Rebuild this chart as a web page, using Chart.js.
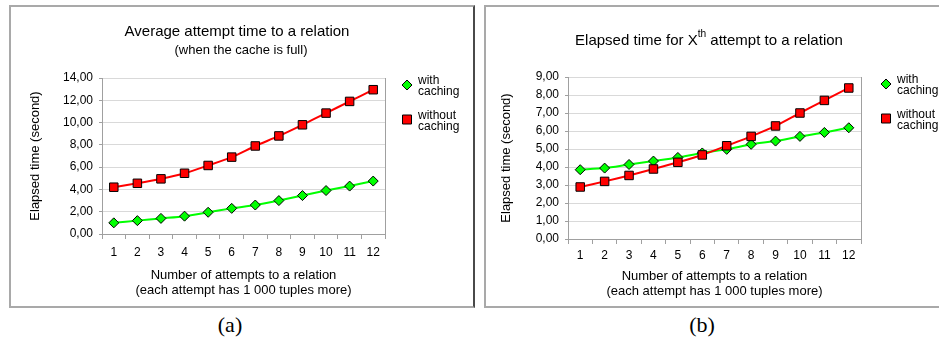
<!DOCTYPE html>
<html>
<head>
<meta charset="utf-8">
<script src="https://cdn.jsdelivr.net/npm/chart.js@4.4.0/dist/chart.umd.min.js"></script>
<style>
  body { margin: 0; background: #fff; width: 939px; height: 342px; overflow: hidden; position: relative; }
  .box { position: absolute; box-sizing: border-box; border: 2px solid #a9a9a9; background: #fff; }
  #boxA { left: 9px; top: 5px; width: 466px; height: 303px; border-right-color: #4a4a4a; }
  #boxB { left: 484px; top: 5px; width: 470px; height: 303px; }
  canvas { position: absolute; }
  #chartA { left: 11px; top: 7px; }
  #chartB { left: 486px; top: 7px; }
  .caption { position: absolute; top: 312px; line-height: 25px; font-family: 'Liberation Serif', 'Times New Roman', serif; font-size: 22px; transform: translateX(-50%); }
</style>
</head>
<body>
<div class="box" id="boxA"></div>
<div class="box" id="boxB"></div>
<canvas id="chartA" width="462" height="299"></canvas>
<canvas id="chartB" width="453" height="299"></canvas>
<div class="caption" style="left:230px">(a)</div>
<div class="caption" style="left:702px">(b)</div>
<script>
// attempts 1..12
const attempts = ['1', '2', '3', '4', '5', '6', '7', '8', '9', '10', '11', '12'];
const seriesNames = ['with caching', 'without caching'];

// (a) average attempt time, cache full
const avgWithCaching = [1.00, 1.20, 1.40, 1.60, 1.95, 2.30, 2.60, 3.00, 3.45, 3.90, 4.30, 4.75];
const avgWithoutCaching = [4.20, 4.55, 4.95, 5.45, 6.15, 6.90, 7.90, 8.80, 9.80, 10.85, 11.90, 12.95];

// (b) elapsed time for the Xth attempt
const xthWithCaching = [3.85, 3.94, 4.14, 4.33, 4.53, 4.78, 4.98, 5.26, 5.44, 5.70, 5.92, 6.18];
const xthWithoutCaching = [2.89, 3.20, 3.53, 3.89, 4.26, 4.67, 5.18, 5.70, 6.28, 7.00, 7.70, 8.39];

const FONT = "'Liberation Sans', Arial, sans-serif";
const GREEN = '#00ff00';
const RED = '#ff0000';

// titles drawn by hand, because of the superscript in (b)
const titlePlugin = {
  id: 'boxTitle',
  afterDraw(chart, args, opts) {
    const ctx = chart.ctx;
    ctx.save();
    ctx.fillStyle = '#000';
    ctx.textBaseline = 'alphabetic';
    (opts.lines || []).forEach(line => {
      let total = 0;
      line.parts.forEach(p => {
        ctx.font = (p.sup ? line.size * 0.68 : line.size) + 'px ' + FONT;
        p.w = ctx.measureText(p.text).width;
        total += p.w;
      });
      let x = line.x - total / 2;
      line.parts.forEach(p => {
        ctx.font = (p.sup ? line.size * 0.68 : line.size) + 'px ' + FONT;
        ctx.textAlign = 'left';
        ctx.fillText(p.text, x, p.sup ? line.y - line.size * 0.55 : line.y);
        x += p.w;
      });
    });
    ctx.restore();
  }
};

// right-hand frame line of the plot area + two line legend
const framePlugin = {
  id: 'frameLegend',
  beforeDatasetsDraw(chart) {
    const {ctx, chartArea} = chart;
    ctx.save();
    ctx.strokeStyle = '#a0a0a0';
    ctx.lineWidth = 1;
    ctx.beginPath();
    ctx.moveTo(Math.round(chartArea.right) + 0.5, chartArea.top);
    ctx.lineTo(Math.round(chartArea.right) + 0.5, chartArea.bottom);
    ctx.stroke();
    ctx.restore();
  },
  afterDraw(chart, args, opts) {
    const {ctx, chartArea} = chart;
    const mx = chartArea.right + opts.dx;
    ctx.save();
    chart.data.datasets.forEach((ds, i) => {
      const my = chartArea.top + opts.dy[i];
      ctx.fillStyle = ds.pointBackgroundColor;
      ctx.strokeStyle = '#000';
      ctx.lineWidth = 1;
      ctx.beginPath();
      if (ds.pointStyle === 'rectRot') {
        const r = 5;
        ctx.moveTo(mx - r, my);
        ctx.lineTo(mx, my - r);
        ctx.lineTo(mx + r, my);
        ctx.lineTo(mx, my + r);
        ctx.closePath();
      } else {
        ctx.rect(mx - 4.5, my - 4.5, 9, 9);
      }
      ctx.fill();
      ctx.stroke();
      ctx.fillStyle = '#000';
      ctx.font = '12px ' + FONT;
      ctx.textAlign = 'left';
      ctx.textBaseline = 'alphabetic';
      const words = ds.label.split(' ');
      ctx.fillText(words[0], mx + 11, my - 1);
      ctx.fillText(words.slice(1).join(' '), mx + 11, my + 10);
    });
    ctx.restore();
  }
};

const makeSeries = (label, data, color, style, radius, order) => ({
  label: label,
  data: data,
  borderColor: color,
  backgroundColor: color,
  borderWidth: 2,
  pointStyle: style,
  pointRadius: radius,
  pointHoverRadius: radius,
  pointBackgroundColor: color,
  pointBorderColor: '#000',
  pointBorderWidth: 1,
  tension: 0.25,
  order: order,
});

const makeConfig = (withData, withoutData, yMax, yStep, geo) => ({
  type: 'line',
  data: {
    labels: attempts,
    datasets: [
      makeSeries(seriesNames[0], withData, GREEN, 'rectRot', 5, 1),
      makeSeries(seriesNames[1], withoutData, RED, 'rect', 6, 0),
    ]
  },
  plugins: [titlePlugin, framePlugin],
  options: {
    responsive: false,
    animation: false,
    devicePixelRatio: 1,
    layout: {
      padding: {top: geo.top, right: geo.right, left: 0, bottom: 0}
    },
    plugins: {
      legend: {display: false},
      tooltip: {enabled: false},
      boxTitle: {lines: geo.titles},
      frameLegend: {dx: geo.legendDx, dy: [7, 41.5]},
    },
    scales: {
      x: {
        offset: true,
        grid: {
          offset: true,
          drawOnChartArea: false,
          drawTicks: true,
          tickLength: 5,
          tickColor: '#a0a0a0',
        },
        border: {color: '#a0a0a0'},
        ticks: {
          color: '#000',
          padding: geo.xTickPad,
          maxRotation: 0,
          font: {size: 12, family: FONT},
        },
        title: {
          display: true,
          text: ['Number of attempts to a relation', '(each attempt has 1 000 tuples more)'],
          color: '#000',
          font: {size: 13, family: FONT, lineHeight: 1.2},
          padding: {top: 0, bottom: geo.xTitlePad},
        },
        afterFit: (scale) => { scale.height = geo.xHeight; },
      },
      y: {
        min: 0,
        max: yMax,
        grid: {
          color: '#d9d9d9',
          tickColor: '#a0a0a0',
          tickLength: 3,
        },
        border: {color: '#a0a0a0'},
        ticks: {
          stepSize: yStep,
          color: '#000',
          padding: 6,
          font: {size: 12, family: FONT},
          callback: (value) => value.toFixed(2).replace('.', ','),
        },
        title: {
          display: true,
          text: 'Elapsed time (second)',
          color: '#000',
          font: {size: 13, family: FONT, lineHeight: 1.2},
          padding: {top: geo.yTitlePad, bottom: 0},
        },
        afterFit: (scale) => { scale.width = geo.yWidth; },
      }
    }
  }
});

new Chart(document.getElementById('chartA'), makeConfig(avgWithCaching, avgWithoutCaching, 14, 2, {
  top: 71, right: 88, yWidth: 91, xHeight: 72, xTickPad: 6, xTitlePad: 7.5, yTitlePad: 17, legendDx: 22,
  titles: [
    {x: 226, y: 29, size: 15, parts: [{text: 'Average attempt time to a relation'}]},
    {x: 230, y: 47, size: 13, parts: [{text: '(when the cache is full)'}]},
  ]
}));

new Chart(document.getElementById('chartB'), makeConfig(xthWithCaching, xthWithoutCaching, 9, 1, {
  top: 70, right: 78, yWidth: 82, xHeight: 67, xTickPad: 4, xTitlePad: 6.5, yTitlePad: 13, legendDx: 25,
  titles: [
    {x: 223, y: 38, size: 15, parts: [{text: 'Elapsed time for X'}, {text: 'th', sup: true}, {text: ' attempt to a relation'}]},
  ]
}));
</script>
</body>
</html>
